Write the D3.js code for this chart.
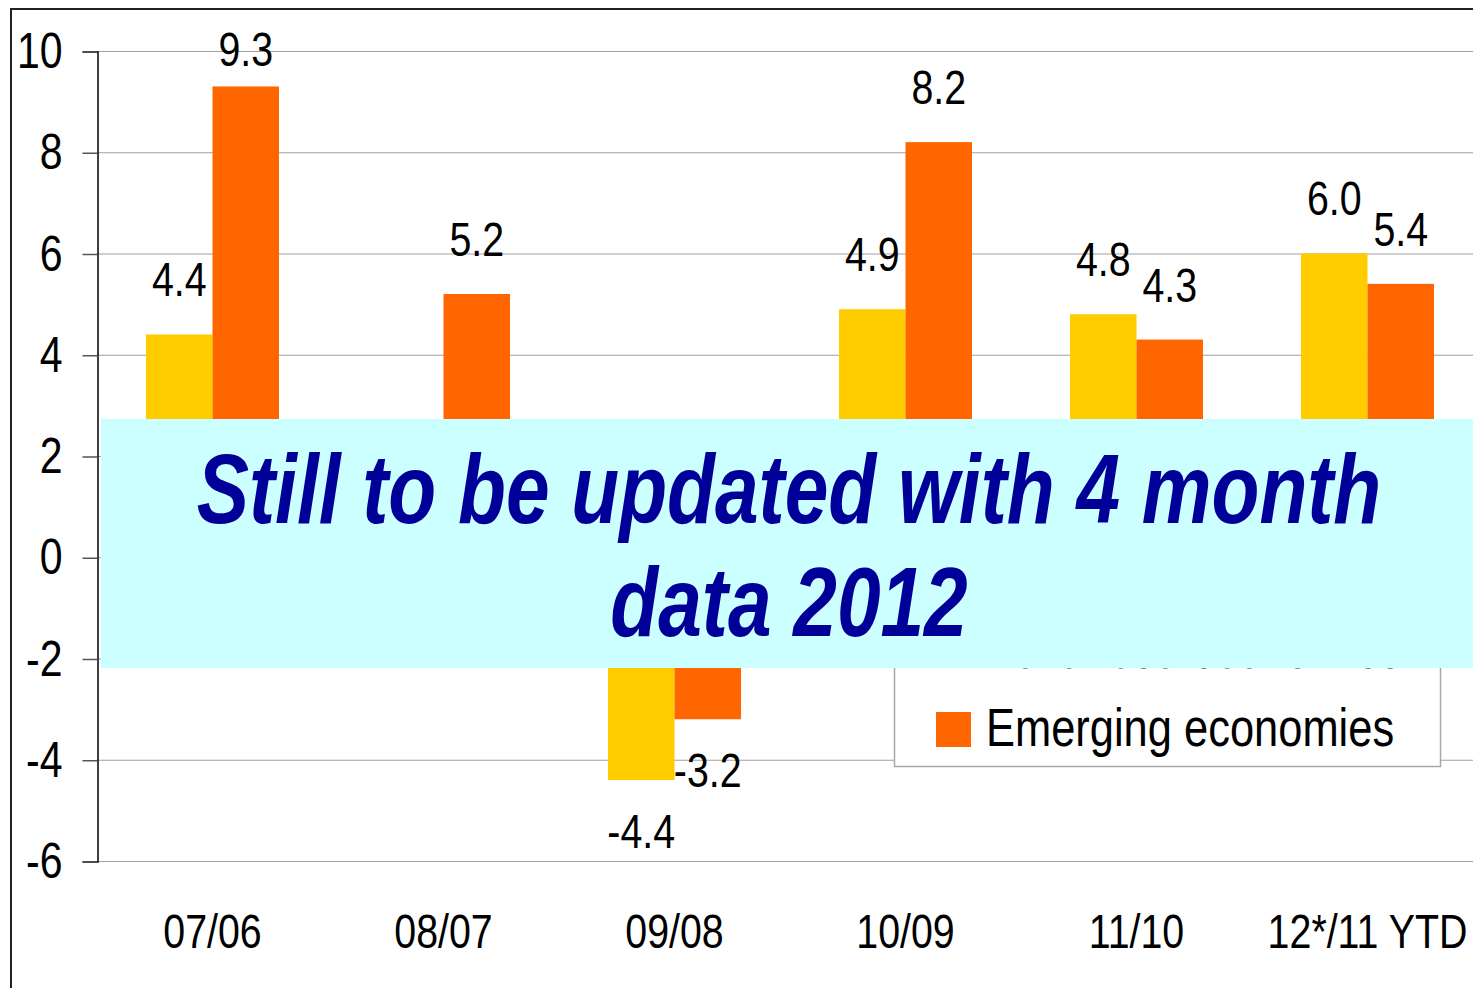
<!DOCTYPE html>
<html>
<head>
<meta charset="utf-8">
<script src="https://cdn.jsdelivr.net/npm/d3@7"></script>
<style>
  html, body { margin: 0; padding: 0; background: #fff; }
  svg { display: block; }
  text { font-family: "Liberation Sans", Arial, sans-serif; }
</style>
</head>
<body>
<svg id="chart" width="1473" height="988"></svg>
<script>
// chart data
let categories = ["07/06", "08/07", "09/08", "10/09", "11/10", "12*/11 YTD"];
let seriesNames = ["Advanced economies", "Emerging economies"];
let advanced = [4.4, 0.5, -4.4, 4.9, 4.8, 6.0];
let emerging = [9.3, 5.2, -3.2, 8.2, 4.3, 5.4];
let yTicks = [-6, -4, -2, 0, 2, 4, 6, 8, 10];
let seriesColors = ["#FFCC00", "#FF6600"];
let noteLines = ["Still to be updated with 4 month", "data 2012"];

// no narrow face installed, so squeeze the regular one horizontally
let narrow = 0.82;
function squeeze(sel, k) {
  k = k || narrow;
  sel.each(function() {
    let t = d3.select(this);
    let x0 = +t.attr("x") || 0;
    t.attr("x", x0 / k).attr("transform", "scale(" + k + ",1)");
  });
}

let fmt = d3.formatLocale({decimal: ".", thousands: ",", grouping: [3], currency: ["", ""], minus: "-"});
let fmtVal = fmt.format(".1f");
let fmtTick = fmt.format("d");

let svg = d3.select("#chart");

let x = d3.scaleBand().domain(categories).range([97, 1483]).padding(0);
let xs = d3.scaleBand().domain(seriesNames).range([0, x.bandwidth()]).paddingOuter(0.737);
let y = d3.scaleLinear().domain([-6, 10]).range([861, 51]);

//outer frame
svg.append("path")
    .attr("d", "M11,988V9H1473")
    .attr("fill", "none")
    .attr("stroke", "#222")
    .attr("stroke-width", 2);

//gridlines
svg.append("g")
    .selectAll("line")
    .data(yTicks)
    .enter().append("line")
    .attr("x1", 97).attr("x2", 1473)
    .attr("y1", d => y(d) + 0.5).attr("y2", d => y(d) + 0.5)
    .attr("stroke", "#a0a0a0")
    .attr("stroke-width", 1.2);

//y axis
let yAxis = svg.append("g")
    .attr("transform", "translate(97.5,0.5)")
    .call(d3.axisLeft(y).tickValues(yTicks).tickSize(15).tickPadding(20).tickFormat(fmtTick));
yAxis.select(".domain").attr("stroke", "#000").attr("stroke-width", 1.5);
yAxis.selectAll(".tick line").attr("stroke", "#555").attr("stroke-width", 1.5);
yAxis.selectAll(".tick text")
    .attr("font-size", 50)
    .attr("font-family", null)
    .attr("fill", "#000")
    .call(squeeze);

//bars
let rows = categories.map((c, i) => ({cat: c, vals: [advanced[i], emerging[i]]}));
let groups = svg.append("g")
    .selectAll("g")
    .data(rows)
    .enter().append("g")
    .attr("transform", d => "translate(" + x(d.cat) + ",0)");

groups.selectAll("rect")
    .data(d => d.vals.map((v, k) => ({name: seriesNames[k], v: v, k: k})))
    .enter().append("rect")
    .attr("x", d => xs(d.name))
    .attr("width", xs.bandwidth())
    .attr("y", d => y(Math.max(0, d.v)))
    .attr("height", d => Math.abs(y(d.v) - y(0)))
    .attr("fill", d => seriesColors[d.k]);

//value labels (kept inside the frame at the top)
groups.selectAll("text.val")
    .data(d => d.vals.map((v, k) => ({name: seriesNames[k], v: v})))
    .enter().append("text")
    .attr("class", "val")
    .attr("x", d => xs(d.name) + xs.bandwidth() / 2)
    .attr("y", d => d.v >= 0 ? Math.max(y(d.v) - 38, 66) : y(d.v) + 68)
    .attr("text-anchor", "middle")
    .attr("font-size", 48)
    .text(d => fmtVal(d.v))
    .call(squeeze);

//category labels
svg.append("g")
    .selectAll("text")
    .data(categories)
    .enter().append("text")
    .attr("x", d => x(d) + x.bandwidth() / 2)
    .attr("y", 948)
    .attr("text-anchor", "middle")
    .attr("font-size", 48)
    .text(d => d)
    .call(squeeze);

//legend
let legend = svg.append("g");
legend.append("rect")
    .attr("x", 894.5).attr("y", 588.5)
    .attr("width", 546).attr("height", 178)
    .attr("fill", "#fff")
    .attr("stroke", "#a8a8a8")
    .attr("stroke-width", 1.5);
let items = legend.selectAll("g")
    .data(seriesNames)
    .enter().append("g")
    .attr("transform", (d, i) => "translate(936," + (746 - (1 - i) * 78) + ")");
items.append("rect")
    .attr("x", 0).attr("y", (d, i) => i ? -34 : -35)
    .attr("width", 35).attr("height", 35)
    .attr("fill", (d, i) => seriesColors[i]);
items.append("text")
    .attr("x", 50).attr("y", 0)
    .attr("font-size", 53)
    .text(d => d)
    .call(squeeze);

//overlay note
svg.append("rect")
    .attr("x", 101).attr("y", 419)
    .attr("width", 1380).attr("height", 249)
    .attr("fill", "#CCFFFF");
svg.append("g")
    .selectAll("text")
    .data(noteLines)
    .enter().append("text")
    .attr("x", 789)
    .attr("y", (d, i) => 523 + i * 113)
    .attr("text-anchor", "middle")
    .attr("font-size", 98)
    .attr("font-weight", "bold")
    .attr("font-style", "italic")
    .attr("fill", "#000099")
    .text(d => d)
    .call(squeeze, 0.8);
</script>
</body>
</html>
